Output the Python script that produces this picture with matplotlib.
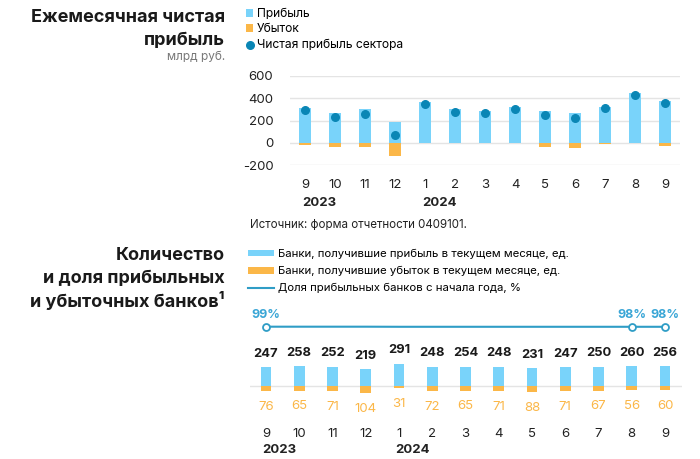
import matplotlib
matplotlib.use("Agg")
import matplotlib.pyplot as plt
import numpy as np

plt.rcParams['font.family'] = ['Inter', 'DejaVu Sans']
plt.rcParams['axes.unicode_minus'] = False

# Monthly net profit, bln rub
months = ["9", "10", "11", "12", "1", "2", "3", "4", "5", "6", "7", "8", "9"]
profit = [310, 265, 300, 186, 369, 300, 288, 324, 283, 270, 324, 450, 375]
loss = [-20, -41, -41, -117, -3, -6, -6, -6, -36, -48, -8, -4, -27]
net = [292, 229, 261, 69, 351, 276, 267, 300, 246, 225, 312, 432, 357]

# Number of profitable / loss-making banks
banks_profit = [247, 258, 252, 219, 291, 248, 254, 248, 231, 247, 250, 260, 256]
banks_loss = [76, 65, 71, 104, 31, 72, 65, 71, 88, 71, 67, 56, 60]
share_pct = [99, 99, 99, 99, 98, 98, 98, 98, 98, 98, 98, 98, 98]
share_labels = {0: "99%", 11: "98%", 12: "98%"}

years = [(0, "2023"), (4, "2024")]

BLUE = "#79d3fa"
ORANGE = "#fbb748"
DOT = "#0a86b5"
LINE = "#2f9dc6"
PCT = "#3aa6d6"
GRID = "#e4e4e4"
GRAYTXT = "#777777"

W, H = 700, 459
fig = plt.figure(figsize=(W / 100, H / 100), dpi=100)

def fbox(x0, y0, x1, y1):
    # pixel box (top-left origin) -> figure fraction rect
    return [x0 / W, 1 - y1 / H, (x1 - x0) / W, (y1 - y0) / H]

x = np.arange(len(months))

# ---------- top chart ----------
ax1 = fig.add_axes(fbox(290, 76, 680, 165))
p1 = ax1.bar(x, profit, width=0.37, color=BLUE, label="Прибыль", zorder=2)
p2 = ax1.bar(x, loss, width=0.37, color=ORANGE, label="Убыток", zorder=2)
p3 = ax1.scatter(x, net, s=30, color=DOT, label="Чистая прибыль сектора", zorder=3)
ax1.set_xlim(-0.5, 12.5)
ax1.set_ylim(-200, 600)
ax1.set_yticks([-200, 0, 200, 400, 600])
ax1.grid(axis="y", color=GRID, lw=1, zorder=0)
ax1.set_axisbelow(True)
for s in ax1.spines.values():
    s.set_visible(False)
ax1.tick_params(axis="y", length=0, pad=12, labelsize=9.5, colors="#222222")
ax1.set_xticks(x)
ax1.set_xticklabels(months)
ax1.tick_params(axis="x", length=0, pad=10, labelsize=9.5, colors="#222222")
for i, yr in years:
    ax1.annotate(yr, xy=(i - 0.1, 0), xycoords=("data", "axes fraction"),
                 xytext=(0, -23), textcoords="offset points", ha="left", va="top",
                 fontsize=9.5, fontweight="bold", color="#222222")

fig.legend([p1, p2, p3], [p1.get_label(), p2.get_label(), p3.get_label()],
           loc="upper left", bbox_to_anchor=(246 / W, 1 - 8 / H), frameon=False,
           fontsize=8.7, handlelength=0.6, handleheight=0.6, handletextpad=0.3,
           labelspacing=0.28, borderaxespad=0, borderpad=0)

fig.text(225 / W, 1 - 18 / H, "Ежемесячная чистая", ha="right", va="center",
         fontsize=13, fontweight="bold", color="#1a1a1a")
fig.text(225 / W, 1 - 40 / H, "прибыль", ha="right", va="center",
         fontsize=13, fontweight="bold", color="#1a1a1a")
fig.text(225 / W, 1 - 57 / H, "млрд руб.", ha="right", va="center",
         fontsize=8.5, color=GRAYTXT)
fig.text(250 / W, 1 - 225 / H, "Источник: форма отчетности 0409101.", ha="left",
         va="center", fontsize=8.3, color="#222222")

# ---------- bottom chart ----------
ax2 = fig.add_axes(fbox(250, 310, 682, 400))
b1 = ax2.bar(x, banks_profit, width=0.32, color=BLUE,
             label="Банки, получившие прибыль в текущем месяце, ед.", zorder=2)
b2 = ax2.bar(x, [-v for v in banks_loss], width=0.32, color=ORANGE,
             label="Банки, получившие убыток в текущем месяце, ед.", zorder=2)
ax2.axhline(0, color=GRID, lw=1, zorder=1)
ax2.set_xlim(-0.48, 12.51)
ax2.set_ylim(-191, 1009)
for s in ax2.spines.values():
    s.set_visible(False)
ax2.set_yticks([])
ax2.set_xticks(x)
ax2.set_xticklabels(months)
ax2.tick_params(axis="x", length=0, pad=20, labelsize=9.5, colors="#222222")
for i, v in enumerate(banks_profit):
    ax2.annotate(str(v), xy=(i, v), xytext=(0, 5.5), textcoords="offset points",
                 ha="center", va="bottom", fontsize=9.3, fontweight="bold",
                 color="#1a1a1a")
for i, v in enumerate(banks_loss):
    ax2.annotate(str(v), xy=(i, -v), xytext=(0, -7), textcoords="offset points",
                 ha="center", va="top", fontsize=9.5, color=ORANGE)
for i, yr in years:
    ax2.annotate(yr, xy=(i - 0.1, 0), xycoords=("data", "axes fraction"),
                 xytext=(0, -32), textcoords="offset points", ha="left", va="top",
                 fontsize=9.5, fontweight="bold", color="#222222")

ax3 = ax2.twinx()
ax3.set_ylim(98.5 - 814, 98.5 + 186)
ln, = ax3.plot(x, share_pct, color=LINE, lw=1.5, zorder=3,
               label="Доля прибыльных банков с начала года, %")
idx = list(share_labels)
ax3.plot(idx, [share_pct[i] for i in idx], ls="none", marker="o", ms=5,
         mfc="white", mec=LINE, mew=1.3, zorder=4)
for i, t in share_labels.items():
    ax3.annotate(t, xy=(i, share_pct[i]), xytext=(0, 4), textcoords="offset points",
                 ha="center", va="bottom", fontsize=9, fontweight="bold", color=PCT)
ax3.set_yticks([])
for s in ax3.spines.values():
    s.set_visible(False)

fig.legend([b1, b2, ln], [b1.get_label(), b2.get_label(), ln.get_label()],
           loc="upper left", bbox_to_anchor=(248 / W, 1 - 249 / H), frameon=False,
           fontsize=8.2, handlelength=2.3, handleheight=0.5, handletextpad=0.3,
           labelspacing=0.6, borderaxespad=0, borderpad=0)

fig.text(225 / W, 1 - 256 / H, "Количество", ha="right", va="center",
         fontsize=13, fontweight="bold", color="#1a1a1a")
fig.text(225 / W, 1 - 279 / H, "и доля прибыльных", ha="right", va="center",
         fontsize=13, fontweight="bold", color="#1a1a1a")
fig.text(225 / W, 1 - 301 / H, "и убыточных банков¹", ha="right", va="center",
         fontsize=13, fontweight="bold", color="#1a1a1a")

fig.savefig("out.png", dpi=100)
